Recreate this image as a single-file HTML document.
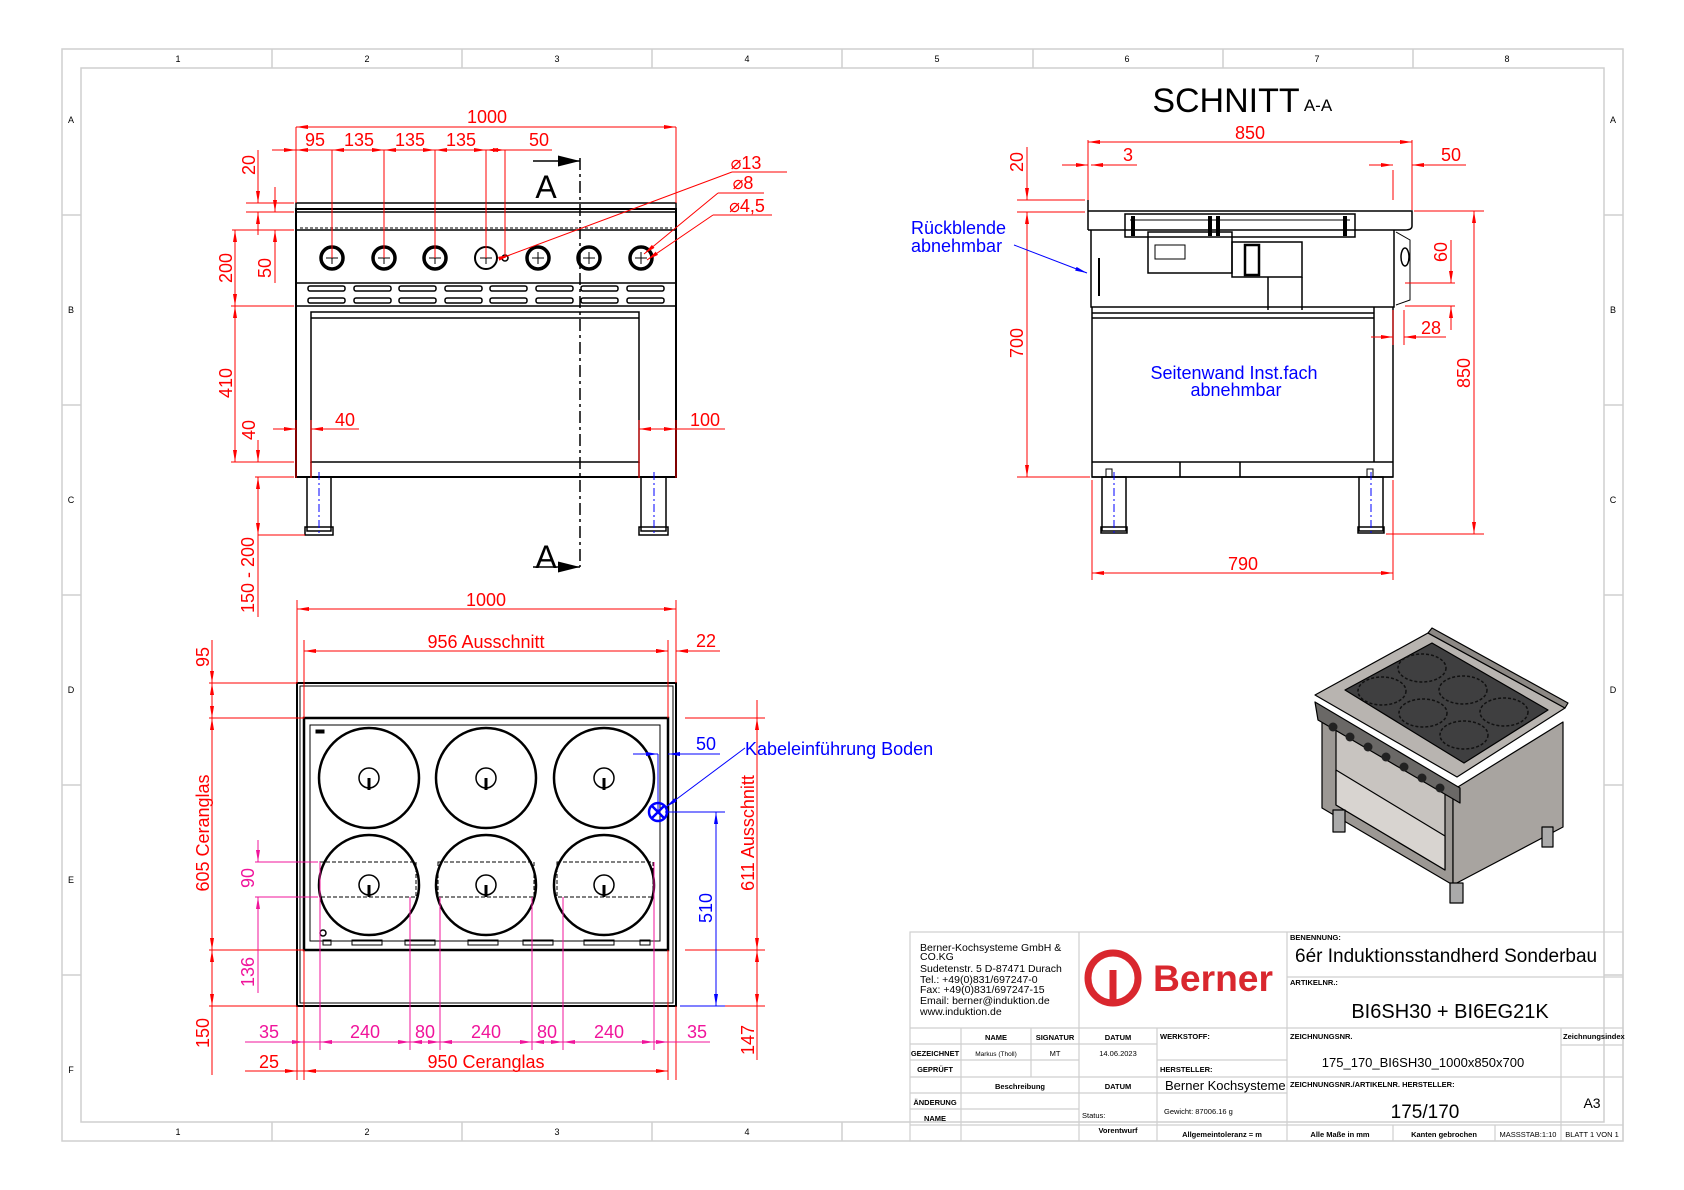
<!DOCTYPE html>
<html><head><meta charset="utf-8">
<style>
html,body{margin:0;padding:0;background:#fff;}
svg{display:block;}
text{font-family:"Liberation Sans","DejaVu Sans",sans-serif;}
</style></head>
<body>
<svg width="1684" height="1190" viewBox="0 0 1684 1190" xmlns="http://www.w3.org/2000/svg">
<defs>
<marker id="ar" viewBox="0 0 12 4" refX="12" refY="2" markerWidth="12" markerHeight="4" markerUnits="userSpaceOnUse" orient="auto-start-reverse"><path d="M0,0L12,2L0,4z" fill="#f00"/></marker>
<marker id="ap" viewBox="0 0 12 4" refX="12" refY="2" markerWidth="12" markerHeight="4" markerUnits="userSpaceOnUse" orient="auto-start-reverse"><path d="M0,0L12,2L0,4z" fill="#f0149b"/></marker>
<marker id="ab" viewBox="0 0 12 4" refX="12" refY="2" markerWidth="12" markerHeight="4" markerUnits="userSpaceOnUse" orient="auto-start-reverse"><path d="M0,0L12,2L0,4z" fill="#00f"/></marker>
<marker id="ak" viewBox="0 0 16 8" refX="16" refY="4" markerWidth="22" markerHeight="11" markerUnits="userSpaceOnUse" orient="auto"><path d="M0,0L16,4L0,8z" fill="#000"/></marker>
</defs>
<rect width="1684" height="1190" fill="#fff"/>

<!-- FRAME -->
<g stroke="#cfcfcf" stroke-width="1.5" fill="none">
<rect x="62" y="49" width="1561" height="1092"/>
<rect x="81" y="68" width="1523" height="1054"/>
<path d="M272 49V68M462 49V68M652 49V68M842 49V68M1033 49V68M1223 49V68M1413 49V68"/>
<path d="M272 1122V1141M462 1122V1141M652 1122V1141M842 1122V1141"/>
<path d="M62 215H81M62 405H81M62 595H81M62 785H81M62 975H81"/>
<path d="M1604 215H1623M1604 405H1623M1604 595H1623M1604 785H1623M1604 975H1623"/>
</g>
<g font-size="9" fill="#000" text-anchor="middle">
<text x="178" y="62">1</text><text x="367" y="62">2</text><text x="557" y="62">3</text><text x="747" y="62">4</text><text x="937" y="62">5</text><text x="1127" y="62">6</text><text x="1317" y="62">7</text><text x="1507" y="62">8</text>
<text x="178" y="1135">1</text><text x="367" y="1135">2</text><text x="557" y="1135">3</text><text x="747" y="1135">4</text>
<text x="71" y="123">A</text><text x="71" y="313">B</text><text x="71" y="503">C</text><text x="71" y="693">D</text><text x="71" y="883">E</text><text x="71" y="1073">F</text>
<text x="1613" y="123">A</text><text x="1613" y="313">B</text><text x="1613" y="503">C</text><text x="1613" y="693">D</text>
</g>

<!-- FRONT VIEW -->
<g stroke="#000" fill="none" stroke-width="1.5">
<rect x="296" y="203" width="380" height="6"/>
<rect x="296" y="209" width="380" height="268" stroke-width="2"/>
<path d="M296 212H676M296 230H676M296 283H676M296 306H676" stroke-width="1.5"/>
<path d="M300 228H672" stroke-dasharray="3 2" stroke-width="1"/>
<rect x="311" y="312" width="328" height="150" stroke-width="1.5"/>
<path d="M311 318H639M311 462V477M639 462V477"/>
<rect x="307" y="477" width="24" height="54"/><rect x="305" y="527" width="28" height="8"/>
<rect x="641" y="477" width="25" height="54"/><rect x="639" y="527" width="29" height="8"/>
</g>
<g stroke="#00f" stroke-width="1" stroke-dasharray="8 3 2 3"><path d="M319 472V536M654 472V536"/></g>
<g stroke="#000" stroke-width="3.5" fill="#fff">
<ellipse cx="332" cy="258" rx="11" ry="11"/><ellipse cx="384" cy="258" rx="11" ry="11"/><ellipse cx="435" cy="258" rx="11" ry="11"/><ellipse cx="486" cy="258" rx="11" ry="11" stroke-width="2"/><ellipse cx="538" cy="258" rx="11" ry="11"/><ellipse cx="589" cy="258" rx="11" ry="11"/><ellipse cx="641" cy="258" rx="11" ry="11"/>
<circle cx="505" cy="258" r="3" stroke-width="1.5"/>
</g>
<g stroke="#000" stroke-width="1"><path d="M326 258H338M332 252V264M378 258H390M384 252V264M429 258H441M435 252V264M480 258H492M486 252V264M532 258H544M538 252V264M583 258H595M589 252V264M635 258H647M641 252V264"/></g>
<g fill="#fff" stroke="#000" stroke-width="1.5">
<rect x="308" y="286" width="37" height="5" rx="2"/><rect x="354" y="286" width="37" height="5" rx="2"/><rect x="399" y="286" width="37" height="5" rx="2"/><rect x="445" y="286" width="37" height="5" rx="2"/><rect x="490" y="286" width="37" height="5" rx="2"/><rect x="536" y="286" width="37" height="5" rx="2"/><rect x="581" y="286" width="37" height="5" rx="2"/><rect x="627" y="286" width="37" height="5" rx="2"/>
<rect x="308" y="298" width="37" height="5" rx="2"/><rect x="354" y="298" width="37" height="5" rx="2"/><rect x="399" y="298" width="37" height="5" rx="2"/><rect x="445" y="298" width="37" height="5" rx="2"/><rect x="490" y="298" width="37" height="5" rx="2"/><rect x="536" y="298" width="37" height="5" rx="2"/><rect x="581" y="298" width="37" height="5" rx="2"/><rect x="627" y="298" width="37" height="5" rx="2"/>
</g>
<!-- section line A -->
<path d="M580 158V567" stroke="#000" stroke-width="1.5" stroke-dasharray="12 4 3 4"/>
<path d="M533 161H580" stroke="#000" stroke-width="1.5" marker-end="url(#ak)"/>
<path d="M533 567H580" stroke="#000" stroke-width="1.5" marker-end="url(#ak)"/>
<text x="546" y="198" font-size="32" text-anchor="middle">A</text>
<text x="546" y="568" font-size="32" text-anchor="middle">A</text>

<!-- front dims -->
<g stroke="#f00" stroke-width="1" fill="none">
<path d="M296 127V203M676 127V203"/>
<path d="M332 150V258M384 150V258M435 150V258M486 150V258M505 150V258"/>
<path d="M246 203H294M246 212H294M232 230H294M231 306H294M231 462H294M255 477H294M258 535H305"/>
<path d="M296 420V478M311 420V478M639 420V478M676 420V478"/>
</g>
<g stroke="#f00" stroke-width="1" fill="none">
<path d="M296 127H676" marker-start="url(#ar)" marker-end="url(#ar)"/>
<path d="M272 150H296" marker-end="url(#ar)"/>
<path d="M332 150H384" marker-start="url(#ar)" marker-end="url(#ar)"/>
<path d="M384 150H435" marker-start="url(#ar)" marker-end="url(#ar)"/>
<path d="M435 150H486" marker-start="url(#ar)" marker-end="url(#ar)"/>
<path d="M486 150H505" marker-start="url(#ar)" marker-end="url(#ar)"/>
<path d="M505 150H552"/><path d="M296 150H332" marker-start="url(#ar)"/>
<path d="M258 150V203" marker-end="url(#ar)"/><path d="M258 212V235" marker-start="url(#ar)"/>
<path d="M275 187V212" marker-end="url(#ar)"/><path d="M275 230V283" marker-start="url(#ar)"/>
<path d="M235 230V306" marker-start="url(#ar)" marker-end="url(#ar)"/>
<path d="M235 306V462" marker-start="url(#ar)" marker-end="url(#ar)"/>
<path d="M258 440V462" marker-end="url(#ar)"/><path d="M258 477V500" marker-start="url(#ar)"/>
<path d="M258 500V535" marker-end="url(#ar)"/><path d="M258 535V617"/>
<path d="M273 429H296" marker-end="url(#ar)"/><path d="M311 429H359" marker-start="url(#ar)"/>
<path d="M639 429H676" marker-start="url(#ar)" marker-end="url(#ar)"/><path d="M676 429H725"/>
<path d="M732 172H787M732 172L507 256"/><path d="M507 256L510 255" marker-end="url(#ar)"/>
<path d="M718 193H764M718 193L644 254" marker-end="url(#ar)"/>
<path d="M713 215H772M713 215L647 260" marker-end="url(#ar)"/>
</g>
<g fill="#f00" font-size="18" text-anchor="middle">
<text x="487" y="123">1000</text>
<text x="315" y="146">95</text><text x="359" y="146">135</text><text x="410" y="146">135</text><text x="461" y="146">135</text><text x="539" y="146">50</text>
<text x="345" y="426">40</text><text x="705" y="426">100</text>
<text x="766" y="169" dx="-20">⌀13</text>
<text x="749" y="189" dx="-6">⌀8</text>
<text x="751" y="212" dx="-4">⌀4,5</text>
<text transform="translate(255,165) rotate(-90)">20</text>
<text transform="translate(271,268) rotate(-90)">50</text>
<text transform="translate(232,268) rotate(-90)">200</text>
<text transform="translate(232,383) rotate(-90)">410</text>
<text transform="translate(255,430) rotate(-90)">40</text>
<text transform="translate(254,575) rotate(-90)">150 - 200</text>
</g>

<!-- SECTION A-A -->
<text x="1226" y="112" font-size="34" text-anchor="middle">SCHNITT</text>
<text x="1318" y="111" font-size="17" text-anchor="middle">A-A</text>
<g stroke="#000" fill="none" stroke-width="1.5">
<path d="M1088 200V230"/>
<path d="M1088 211H1412V226Q1412 230 1405 230H1395"/>
<path d="M1088 230H1395"/>
<path d="M1091 230V307H1394V230"/>
<path d="M1092 307V477H1393V307"/>
<path d="M1092 313H1374M1092 318H1374M1374 307V462"/>
<path d="M1092 462H1393M1092 477H1393"/>
<path d="M1125 214H1355V237H1125z"/>
<path d="M1130 220H1350M1130 230H1350" stroke-width="1"/>
<path d="M1133 216V236M1210 216V236M1218 216V236M1345 216V236" stroke-width="4"/>
<rect x="1148" y="232" width="84" height="41"/>
<rect x="1232" y="242" width="70" height="35"/>
<path d="M1268 277V310M1302 277V310"/>
<rect x="1155" y="245" width="30" height="14" stroke-width="1"/>
<rect x="1245" y="245" width="14" height="30" stroke-width="2.5"/>
<path d="M1099 258V296" stroke-width="2"/>
<path d="M1396 232L1410 240V300L1396 305" stroke-width="1"/>
<ellipse cx="1405" cy="257" rx="4" ry="9"/>
<path d="M1180 462V477M1240 462V477"/>
<rect x="1102" y="477" width="24" height="54"/><rect x="1101" y="527" width="26" height="6"/>
<rect x="1359" y="477" width="24" height="54"/><rect x="1358" y="527" width="26" height="6"/>
<rect x="1106" y="469" width="6" height="8" stroke-width="1"/><rect x="1367" y="469" width="6" height="8" stroke-width="1"/>
</g>
<g stroke="#00f" stroke-width="1" stroke-dasharray="8 3 2 3"><path d="M1114 472V533M1371 472V533"/></g>
<g stroke="#f00" stroke-width="1" fill="none">
<path d="M1088 140V200M1412 140V210M1393 170V200"/>
<path d="M1088 142H1412" marker-start="url(#ar)" marker-end="url(#ar)"/>
<path d="M1062 165H1088" marker-end="url(#ar)"/><path d="M1091 165H1137" marker-start="url(#ar)"/>
<path d="M1369 165H1393" marker-end="url(#ar)"/><path d="M1412 165H1466" marker-start="url(#ar)"/>
<path d="M1017 200H1085M1017 212H1085M1017 477H1090"/>
<path d="M1027 147V200" marker-end="url(#ar)"/><path d="M1027 212V235"/>
<path d="M1027 212V477" marker-start="url(#ar)" marker-end="url(#ar)"/>
<path d="M1414 211H1484M1386 534H1484"/>
<path d="M1474 211V534" marker-start="url(#ar)" marker-end="url(#ar)"/>
<path d="M1405 283H1455M1405 306H1455"/>
<path d="M1451 240V283" marker-end="url(#ar)"/><path d="M1451 306V330" marker-start="url(#ar)"/>
<path d="M1393 310V345M1404 310V345"/>
<path d="M1371 337H1393" marker-end="url(#ar)"/><path d="M1404 337H1446" marker-start="url(#ar)"/>
<path d="M1092 480V580M1393 480V580"/>
<path d="M1092 573H1393" marker-start="url(#ar)" marker-end="url(#ar)"/>
</g>
<g fill="#f00" font-size="18" text-anchor="middle">
<text x="1250" y="139">850</text><text x="1128" y="161">3</text><text x="1451" y="161">50</text>
<text x="1431" y="334">28</text><text x="1243" y="570">790</text>
<text transform="translate(1023,162) rotate(-90)">20</text>
<text transform="translate(1023,343) rotate(-90)">700</text>
<text transform="translate(1470,373) rotate(-90)">850</text>
<text transform="translate(1447,252) rotate(-90)">60</text>
</g>
<g fill="#00f" font-size="18">
<text x="911" y="234">Rückblende</text><text x="911" y="252">abnehmbar</text>
<text x="1234" y="379" text-anchor="middle">Seitenwand Inst.fach</text>
<text x="1236" y="396" text-anchor="middle">abnehmbar</text>
</g>
<path d="M1014 245L1087 273" stroke="#00f" stroke-width="1" marker-end="url(#ab)"/>

<!-- PLAN VIEW -->
<g stroke="#000" fill="none">
<rect x="297" y="683" width="379" height="323" stroke-width="2"/>
<rect x="300" y="686" width="373" height="317" stroke-width="1"/>
<rect x="304" y="718" width="364" height="232" stroke-width="2.5"/>
<rect x="310" y="725" width="350" height="216" stroke-width="1"/>
<g stroke-width="2.5">
<circle cx="369" cy="778" r="50"/><circle cx="486" cy="778" r="50"/><circle cx="604" cy="778" r="50"/>
<circle cx="369" cy="885" r="50"/><circle cx="486" cy="885" r="50"/><circle cx="604" cy="885" r="50"/>
</g>
<g stroke-width="1.5">
<circle cx="369" cy="778" r="10"/><circle cx="486" cy="778" r="10"/><circle cx="604" cy="778" r="10"/>
<circle cx="369" cy="885" r="10"/><circle cx="486" cy="885" r="10"/><circle cx="604" cy="885" r="10"/>
<path d="M369 778V790M486 778V790M604 778V790M369 885V897M486 885V897M604 885V897" stroke-width="3"/>
</g>
<g stroke-width="1" stroke-dasharray="4 2">
<rect x="320" y="862" width="96" height="35"/><rect x="438" y="862" width="96" height="35"/><rect x="557" y="862" width="96" height="35"/>
</g>
<g stroke-width="1"><rect x="323" y="940" width="8" height="5"/><rect x="352" y="940" width="30" height="5"/><rect x="405" y="940" width="30" height="5"/><rect x="468" y="940" width="30" height="5"/><rect x="523" y="940" width="30" height="5"/><rect x="584" y="940" width="30" height="5"/><rect x="640" y="940" width="10" height="5"/></g>
<circle cx="323" cy="933" r="3" stroke-width="1.5"/>
<rect x="316" y="730" width="8" height="3" fill="#000"/>
</g>
<!-- plan dims -->
<g stroke="#f00" stroke-width="1" fill="none">
<path d="M297 600V683M676 600V683M304 640V718M668 640V718"/>
<path d="M297 609H676" marker-start="url(#ar)" marker-end="url(#ar)"/>
<path d="M304 651H668" marker-start="url(#ar)" marker-end="url(#ar)"/>
<path d="M650 651H668" marker-end="url(#ar)"/><path d="M676 651H720" marker-start="url(#ar)"/>
<path d="M209 683H297M209 718H304M209 950H304M209 1006H297"/>
<path d="M212 640V683" marker-end="url(#ar)"/><path d="M212 683V718" marker-start="url(#ar)" marker-end="url(#ar)"/>
<path d="M212 718V950" marker-start="url(#ar)" marker-end="url(#ar)"/>
<path d="M212 950V1006" marker-start="url(#ar)" marker-end="url(#ar)"/><path d="M212 1006V1075"/>
<path d="M297 1006V1080M304 950V1080M668 950V1080M676 1006V1080"/>
<path d="M685 718H765M685 950H765M690 1006H765"/>
<path d="M757 700V718M757 718V950" marker-end="url(#ar)"/><path d="M757 718V950" marker-start="url(#ar)"/>
<path d="M757 950V1006" marker-start="url(#ar)" marker-end="url(#ar)"/><path d="M757 1006V1060"/>
<path d="M245 1071H297" marker-end="url(#ar)"/><path d="M304 1071H668" marker-start="url(#ar)" marker-end="url(#ar)"/><path d="M297 1071H304"/>
</g>
<g stroke="#f0149b" stroke-width="1" fill="none">
<path d="M255 862H318M255 897H318"/>
<path d="M258 840V862" marker-end="url(#ap)"/><path d="M258 897V993" marker-start="url(#ap)"/>
<path d="M320 862V1050M410 897V1050M440 897V1050M532 897V1050M563 897V1050M654 862V1050"/>
<path d="M245 1042H304" marker-end="url(#ap)"/><path d="M320 1042H410" marker-start="url(#ap)" marker-end="url(#ap)"/><path d="M304 1042H320"/>
<path d="M410 1042H440" marker-start="url(#ap)" marker-end="url(#ap)"/>
<path d="M440 1042H532" marker-start="url(#ap)" marker-end="url(#ap)"/>
<path d="M532 1042H563" marker-start="url(#ap)" marker-end="url(#ap)"/>
<path d="M563 1042H654" marker-start="url(#ap)" marker-end="url(#ap)"/>
<path d="M654 1042H668" marker-end="url(#ap)"/><path d="M668 1042H710"/>
</g>
<g stroke="#00f" stroke-width="1" fill="none">
<circle cx="658" cy="812" r="9" stroke-width="2.5"/>
<path d="M652 806L664 818M664 806L652 818" stroke-width="2.5"/>
<path d="M658 754V812"/>
<path d="M633 754H658" marker-end="url(#ab)"/><path d="M668 754H720" marker-start="url(#ab)"/>
<path d="M665 812H725M680 1006H725"/>
<path d="M716 812V1006" marker-start="url(#ab)" marker-end="url(#ab)"/>
<path d="M745 748L666 807" marker-end="url(#ab)"/>
</g>
<g fill="#f00" font-size="18" text-anchor="middle">
<text x="486" y="606">1000</text><text x="486" y="648">956 Ausschnitt</text><text x="706" y="647">22</text>
<text x="486" y="1068">950 Ceranglas</text><text x="269" y="1068">25</text>
<text transform="translate(209,657) rotate(-90)">95</text>
<text transform="translate(209,833) rotate(-90)">605 Ceranglas</text>
<text transform="translate(209,1033) rotate(-90)">150</text>
<text transform="translate(754,833) rotate(-90)">611 Ausschnitt</text>
<text transform="translate(754,1040) rotate(-90)">147</text>
</g>
<g fill="#f0149b" font-size="18" text-anchor="middle">
<text x="269" y="1038">35</text><text x="365" y="1038">240</text><text x="425" y="1038">80</text><text x="486" y="1038">240</text><text x="547" y="1038">80</text><text x="609" y="1038">240</text><text x="697" y="1038">35</text>
<text transform="translate(254,878) rotate(-90)">90</text>
<text transform="translate(254,972) rotate(-90)">136</text>
</g>
<g fill="#00f" font-size="18">
<text x="706" y="750" text-anchor="middle">50</text>
<text transform="translate(712,908) rotate(-90)" text-anchor="middle">510</text>
<text x="745" y="755">Kabeleinführung Boden</text>
</g>

<!-- 3D VIEW -->
<g stroke="#000" stroke-width="1.2" stroke-linejoin="round">
<polygon points="1322,708 1453,790 1453,885 1322,808" fill="#9c9894"/>
<polygon points="1453,790 1563,722 1563,827 1453,885" fill="#a8a4a0"/>
<polygon points="1336,716 1445,784 1445,870 1336,805" fill="#c8c4c0"/>
<polygon points="1336,770 1445,836 1445,870 1336,805" fill="#d8d4d0"/>
<polygon points="1315,702 1460,788 1460,803 1318,720" fill="#6a6866"/>
<polygon points="1428,633 1565,708 1457,777 1315,695" fill="#b8b4b0"/>
<polygon points="1428,633 1432,628 1568,703 1565,708" fill="#8c8884"/>
<polygon points="1345,690 1432,643 1548,710 1464,763" fill="#3f3f40"/>
<rect x="1333" y="810" width="12" height="22" fill="#aaa"/>
<rect x="1450" y="883" width="13" height="20" fill="#aaa"/>
<rect x="1542" y="827" width="11" height="20" fill="#aaa"/>
</g>
<g fill="none" stroke="#111" stroke-width="1.5" stroke-dasharray="3 2">
<ellipse cx="1422" cy="668" rx="24" ry="14"/><ellipse cx="1463" cy="690" rx="24" ry="14"/><ellipse cx="1504" cy="712" rx="24" ry="14"/>
<ellipse cx="1382" cy="691" rx="24" ry="14"/><ellipse cx="1423" cy="713" rx="24" ry="14"/><ellipse cx="1464" cy="735" rx="24" ry="14"/>
</g>
<g fill="#222"><circle cx="1333" cy="727" r="4.5"/><circle cx="1350" cy="737" r="4.5"/><circle cx="1368" cy="747" r="4.5"/><circle cx="1386" cy="757" r="4.5"/><circle cx="1404" cy="767" r="4.5"/><circle cx="1422" cy="778" r="4.5"/><circle cx="1440" cy="788" r="4.5"/></g>

<!-- TITLE BLOCK -->
<g stroke="#cfcfcf" stroke-width="1.2" fill="none">
<rect x="910" y="932" width="713" height="209"/>
<path d="M1079 932V1028M1287 932V1141M1287 977H1623M910 1028H1623M1287 1077H1623M910 1125H1623"/>
<path d="M910 1044H1157M910 1060H1079M1157 1060H1287M910 1077H1287M910 1093H1287M910 1109H1079"/>
<path d="M961 1028V1141M1031 1028V1077M1079 1028V1141M1157 1028V1141M1561 1028V1141M1561 1045H1623M1393 1125V1141M1495 1125V1141"/>
</g>
<g font-size="10.5" fill="#000">
<text x="920" y="951">Berner-Kochsysteme GmbH &amp;</text><text x="920" y="960">CO.KG</text>
<text x="920" y="972">Sudetenstr. 5 D-87471 Durach</text><text x="920" y="983">Tel.: +49(0)831/697247-0</text>
<text x="920" y="993">Fax: +49(0)831/697247-15</text><text x="920" y="1004">Email: berner@induktion.de</text>
<text x="920" y="1015">www.induktion.de</text>
</g>
<circle cx="1113" cy="978" r="25" fill="none" stroke="#d9272e" stroke-width="7"/>
<path d="M1113 970V1003" stroke="#d9272e" stroke-width="7"/>
<text x="1153" y="991" font-size="37" font-weight="bold" fill="#d9272e" textLength="120" lengthAdjust="spacingAndGlyphs">Berner</text>
<g font-size="7.5" font-weight="bold" fill="#000">
<text x="1290" y="940">BENENNUNG:</text><text x="1290" y="985">ARTIKELNR.:</text>
<text x="1290" y="1039">ZEICHNUNGSNR.</text><text x="1290" y="1087">ZEICHNUNGSNR./ARTIKELNR. HERSTELLER:</text>
<text x="1563" y="1039">Zeichnungsindex</text>
<text x="1160" y="1039">WERKSTOFF:</text><text x="1160" y="1072">HERSTELLER:</text>
<text x="996" y="1040" text-anchor="middle">NAME</text><text x="1055" y="1040" text-anchor="middle">SIGNATUR</text><text x="1118" y="1040" text-anchor="middle">DATUM</text>
<text x="935" y="1056" text-anchor="middle">GEZEICHNET</text><text x="935" y="1072" text-anchor="middle">GEPRÜFT</text>
<text x="1020" y="1089" text-anchor="middle">Beschreibung</text><text x="1118" y="1089" text-anchor="middle">DATUM</text>
<text x="935" y="1105" text-anchor="middle">ÄNDERUNG</text><text x="935" y="1121" text-anchor="middle">NAME</text>
<text x="1082" y="1118" font-weight="normal">Status:</text><text x="1118" y="1133" text-anchor="middle">Vorentwurf</text>
<text x="1222" y="1137" text-anchor="middle">Allgemeintoleranz = m</text>
<text x="1340" y="1137" text-anchor="middle">Alle Maße in mm</text>
<text x="1444" y="1137" text-anchor="middle">Kanten gebrochen</text>
<text x="1528" y="1137" text-anchor="middle" font-weight="normal">MASSSTAB:1:10</text>
<text x="1592" y="1137" text-anchor="middle" font-weight="normal">BLATT 1 VON 1</text>
<text x="996" y="1056" text-anchor="middle" font-weight="normal" font-size="6.5">Markus (Tholl)</text>
<text x="1055" y="1056" text-anchor="middle" font-weight="normal">MT</text>
<text x="1118" y="1056" text-anchor="middle" font-weight="normal">14.06.2023</text>
<text x="1164" y="1114" font-weight="normal">Gewicht: 87006.16 g</text>
</g>
<text x="1295" y="962" font-size="19">6ér Induktionsstandherd Sonderbau</text>
<text x="1450" y="1018" font-size="20" text-anchor="middle">BI6SH30 + BI6EG21K</text>
<text x="1423" y="1067" font-size="13" text-anchor="middle">175_170_BI6SH30_1000x850x700</text>
<text x="1425" y="1118" font-size="19" text-anchor="middle">175/170</text>
<text x="1592" y="1108" font-size="14" text-anchor="middle">A3</text>
<text x="1165" y="1093" font-size="13" dy="-3">Berner Kochsysteme</text>
</svg>
</body></html>
